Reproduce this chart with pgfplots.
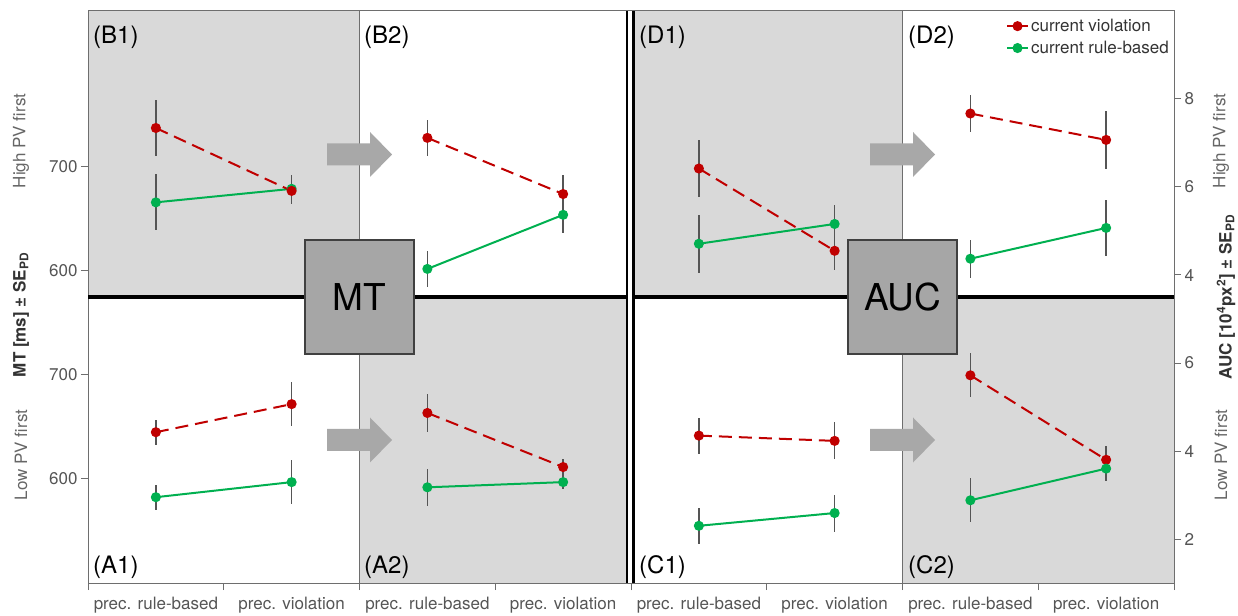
\documentclass[border=0pt]{standalone}
\usepackage{fontspec}
\setmainfont{TeX Gyre Heros}
\usepackage{pgfplots}
\pgfplotsset{compat=1.18}
\definecolor{myred}{HTML}{C00000}
\definecolor{mygreen}{HTML}{00B050}
\definecolor{panelgray}{HTML}{D9D9D9}
\definecolor{axgray}{HTML}{6E6E6E}
\definecolor{tickgray}{HTML}{555555}
\definecolor{errgray}{HTML}{555555}
\definecolor{boxgray}{HTML}{A6A6A6}
\definecolor{boxedge}{HTML}{404040}
\definecolor{arrowgray}{HTML}{A8A8A8}
\definecolor{labgray}{HTML}{333333}
\definecolor{sidegray}{HTML}{666666}
\newcommand{\fs}{\fontsize{17}{20}\selectfont}
\newcommand{\fl}{\fontsize{24}{28}\selectfont}
\newcommand{\fb}{\fontsize{37}{42}\selectfont}

\pgfplotsset{
  panel/.style={scale only axis, width=543pt, height=286pt, xmin=0, xmax=4,
    axis line style={draw=axgray, line width=1pt},
    tick style={draw=axgray, line width=1pt},
    tick align=outside, major tick length=7pt,
    ticklabel style={font=\fs, text=tickgray},
    /pgf/number format/assume math mode=true,
    axis on top, xtick=\empty},
  bottompanel/.style={xtick={0,1,2,3,4}, xticklabels={}, xtick pos=left,
    extra x ticks={0.5,1.5,2.5,3.5},
    extra x tick labels={prec. rule-based, prec. violation, prec. rule-based, prec. violation},
    extra x tick style={major tick length=0pt, xticklabel style={yshift=-11pt}}},
  redp/.style={forget plot, color=myred, line width=2pt, dash pattern=on 13pt off 7pt,
    mark=*, mark size=4pt, mark options={solid, fill=myred},
    error bars/y dir=both, error bars/y explicit, error bars/error mark=none,
    error bars/error bar style={errgray, line width=1.3pt, solid}},
  greenp/.style={forget plot, color=mygreen, line width=2pt, solid,
    mark=*, mark size=4pt, mark options={solid, fill=mygreen},
    error bars/y dir=both, error bars/y explicit, error bars/error mark=none,
    error bars/error bar style={errgray, line width=1.3pt, solid}},
}

\begin{document}
\begin{tikzpicture}[x=1pt,y=1pt]
\useasboundingbox (0,0) rectangle (1238,615);

% ---------------- MT top (B1, B2)
\begin{axis}[panel, at={(88pt,318pt)}, anchor=south west,
  ymin=575, ymax=850, ytick={600,700}, ytick pos=left]
\fill[panelgray] (rel axis cs:0,0) rectangle (rel axis cs:0.5,1);
\draw[axgray, line width=1pt] (rel axis cs:0.5,0) -- (rel axis cs:0.5,1);
\addplot[greenp] coordinates {(0.5,666) +- (0,27) (1.5,679) +- (0,13)};
\addplot[redp] coordinates {(0.5,737.5) +- (0,27) (1.5,677) +- (0,13)};
\addplot[greenp] coordinates {(2.5,602) +- (0,17) (3.5,654) +- (0,17)};
\addplot[redp] coordinates {(2.5,728) +- (0,17) (3.5,674) +- (0,18)};
\end{axis}

% ---------------- MT bottom (A1, A2)
\begin{axis}[panel, bottompanel, at={(88pt,32pt)}, anchor=south west,
  ymin=500, ymax=775, ytick={600,700}, ytick pos=left]
\fill[panelgray] (rel axis cs:0.5,0) rectangle (rel axis cs:1,1);
\draw[axgray, line width=1pt] (rel axis cs:0.5,0) -- (rel axis cs:0.5,1);
\addplot[greenp] coordinates {(0.5,582.5) +- (0,12) (1.5,597) +- (0,21)};
\addplot[redp] coordinates {(0.5,645) +- (0,12) (1.5,672) +- (0,21)};
\addplot[greenp] coordinates {(2.5,592) +- (0,18) (3.5,597) +- (0,7)};
\addplot[redp] coordinates {(2.5,663.5) +- (0,18) (3.5,611.5) +- (0,8)};
\end{axis}

% ---------------- AUC top (D1, D2)
\begin{axis}[panel, at={(631pt,318pt)}, anchor=south west,
  ymin=3.5, ymax=10, ytick={4,6,8}, ytick pos=right, yticklabel pos=right,
  legend style={at={(1,1)}, anchor=north east, xshift=-2pt, yshift=-5pt,
    draw=none, fill=none, font=\fs, text=labgray, inner sep=1pt, row sep=4pt,
    nodes={inner sep=2pt}},
  legend cell align=left,
  legend image code/.code={\draw[mark repeat=2, mark phase=2, #1] plot coordinates {(0pt,0pt) (10.5pt,0pt) (21pt,0pt)};}]
\fill[panelgray] (rel axis cs:0,0) rectangle (rel axis cs:0.5,1);
\draw[axgray, line width=1pt] (rel axis cs:0.5,0) -- (rel axis cs:0.5,1);
\addlegendimage{color=myred, line width=2pt, solid, mark=*, mark size=4pt, mark options={fill=myred}}
\addlegendentry{current violation}
\addlegendimage{color=mygreen, line width=2pt, solid, mark=*, mark size=4pt, mark options={fill=mygreen}}
\addlegendentry{current rule-based}
\addplot[redp] coordinates {(0.5,6.42) +- (0,0.65) (1.5,4.55) +- (0,0.43)};
\addplot[greenp] coordinates {(0.5,4.71) +- (0,0.66) (1.5,5.16) +- (0,0.42)};
\addplot[greenp] coordinates {(2.5,4.37) +- (0,0.43) (3.5,5.07) +- (0,0.64)};
\addplot[redp] coordinates {(2.5,7.67) +- (0,0.43) (3.5,7.07) +- (0,0.65)};
\end{axis}

% ---------------- AUC bottom (C1, C2)
\begin{axis}[panel, bottompanel, at={(631pt,32pt)}, anchor=south west,
  ymin=1, ymax=7.5, ytick={2,4,6}, ytick pos=right, yticklabel pos=right]
\fill[panelgray] (rel axis cs:0.5,0) rectangle (rel axis cs:1,1);
\draw[axgray, line width=1pt] (rel axis cs:0.5,0) -- (rel axis cs:0.5,1);
\addplot[greenp] coordinates {(0.5,2.30) +- (0,0.41) (1.5,2.59) +- (0,0.42)};
\addplot[redp] coordinates {(0.5,4.35) +- (0,0.41) (1.5,4.23) +- (0,0.42)};
\addplot[redp] coordinates {(2.5,5.72) +- (0,0.5) (3.5,3.80) +- (0,0.31)};
\addplot[greenp] coordinates {(2.5,2.88) +- (0,0.5) (3.5,3.60) +- (0,0.29)};
\end{axis}

% separators
\fill[white] (628,32) rectangle (632.3,604);
\draw[black, line width=2.4pt] (626.8,32) -- (626.8,604);
\draw[black, line width=2.4pt] (633.5,32) -- (633.5,604);
\draw[black, line width=4pt] (88,318.3) -- (627,318.3);
\draw[black, line width=4pt] (633,318.3) -- (1174,318.3);

% arrows
\foreach \ax/\ay in {327/460.5, 327/175, 870/460.5, 870/175} {
  \fill[arrowgray] (\ax,\ay-11) -- ++(43,0) -- ++(0,-11.5) -- ++(22,22.5) -- ++(-22,22.5) -- ++(0,-11.5) -- ++(-43,0) -- cycle;
}

% boxes
\draw[fill=boxgray, draw=boxedge, line width=1.3pt] (305,261) rectangle (414,375);
\node[font=\fb, text=black] at (359.5,318) {MT};
\draw[fill=boxgray, draw=boxedge, line width=1.3pt] (848,261) rectangle (957,375);
\node[font=\fb, text=black] at (902.5,318) {AUC};

% panel labels
\foreach \lx/\ly/\lt in {93/578/(B1), 364/578/(B2), 639/578/(D1), 908/578/(D2),
                         93/48/(A1), 364/48/(A2), 639/48/(C1), 908/48/(C2)} {
  \node[anchor=west, inner sep=0pt, font=\fl, text=black] at (\lx,\ly) {\lt};
}

% side labels
\node[rotate=90, font=\fs\bfseries, text=labgray] at (21,300) {MT [ms] ± SE\textsubscript{PD}};
\node[rotate=90, font=\fs, text=sidegray] at (21,474) {High PV first};
\node[rotate=90, font=\fs, text=sidegray] at (21,160) {Low PV first};
\node[rotate=90, font=\fs\bfseries, text=labgray] at (1226,318) {AUC [10\textsuperscript{4}px\textsuperscript{2}] ± SE\textsubscript{PD}};
\node[rotate=90, font=\fs, text=sidegray] at (1221,474) {High PV first};
\node[rotate=90, font=\fs, text=sidegray] at (1221,160) {Low PV first};
\end{tikzpicture}
\end{document}
